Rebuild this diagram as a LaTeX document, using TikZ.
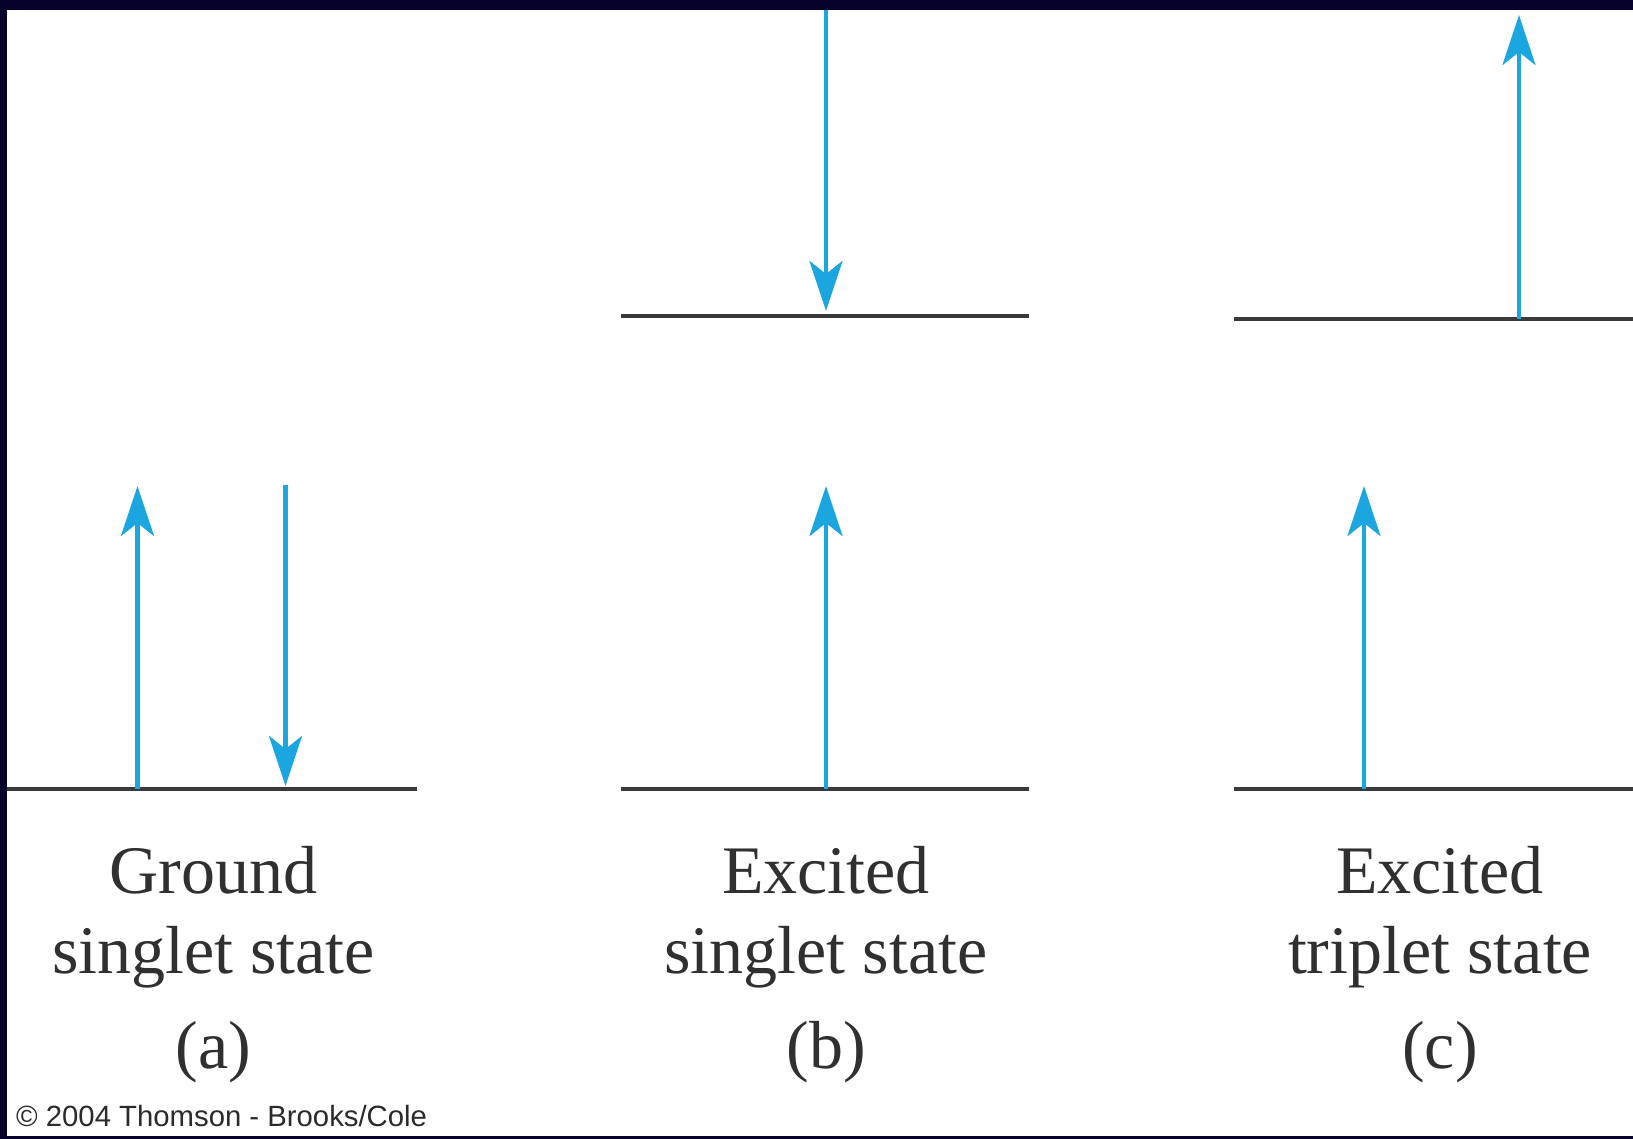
\documentclass[tikz,border=0pt]{standalone}
\usepackage{fontspec}
\setmainfont{Liberation Serif}
\newfontfamily\cpfont{Liberation Sans}
\usetikzlibrary{arrows.meta}
\definecolor{frame}{RGB}{6,2,42}
\definecolor{spinblue}{RGB}{28,166,224}
\definecolor{levelgray}{RGB}{58,58,58}
\definecolor{textgray}{RGB}{48,48,48}
\tikzset{
  level/.style={draw=levelgray, line width=4pt},
  spin/.style={draw=spinblue, line width=4.5pt, -{Stealth[length=50pt, width=33pt, inset=13pt]}},
  lbl/.style={anchor=base, inner sep=0pt, text=textgray, font=\fontsize{68}{80}\selectfont},
  cpy/.style={anchor=base west, inner sep=0pt, text=textgray!90!black, font=\cpfont\fontsize{29.3}{34}\selectfont}
}
\begin{document}
\begin{tikzpicture}[x=1pt, y=-1pt]
\useasboundingbox (0,0) rectangle (1633,1139);
\fill[white] (0,0) rectangle (1633,1139);
% frame
\fill[frame] (0,0) rectangle (1633,10);
\fill[frame] (0,0) rectangle (7,1139);
\fill[frame] (0,1136) rectangle (1633,1139);

% level endpoints
\coordinate (aL) at (7,789);   \coordinate (aR) at (417,789);
\coordinate (bLL) at (621,789); \coordinate (bLR) at (1029,789);
\coordinate (bUL) at (621,316); \coordinate (bUR) at (1029,316);
\coordinate (cLL) at (1234,789); \coordinate (cLR) at (1633,789);
\coordinate (cUL) at (1234,319); \coordinate (cUR) at (1633,319);

\draw[level] (aL) -- (aR);
\draw[level] (bLL) -- (bLR);
\draw[level] (bUL) -- (bUR);
\draw[level] (cLL) -- (cLR);
\draw[level] (cUL) -- (cUR);

% spin arrow endpoints
\coordinate (a1s) at (137.5,789); \coordinate (a1e) at (137.5,486);
\coordinate (a2s) at (285.5,485); \coordinate (a2e) at (285.5,786);
\coordinate (b1s) at (826,10);    \coordinate (b1e) at (826,311);
\coordinate (b2s) at (826,789);   \coordinate (b2e) at (826,486);
\coordinate (c1s) at (1519,319);  \coordinate (c1e) at (1519,15);
\coordinate (c2s) at (1364,789);  \coordinate (c2e) at (1364,486);

\draw[spin] (a1s) -- (a1e);
\draw[spin] (a2s) -- (a2e);
\draw[spin] (b1s) -- (b1e);
\draw[spin] (b2s) -- (b2e);
\draw[spin] (c1s) -- (c1e);
\draw[spin] (c2s) -- (c2e);

% labels
\node[lbl] (ta1) at (213.5,893) {Ground};
\node[lbl] (ta2) at (213.5,973) {singlet state};
\node[lbl] (ta3) at (213.5,1068) {(a)};
\node[lbl] (tb1) at (826,893) {Excited};
\node[lbl] (tb2) at (826,973) {singlet state};
\node[lbl] (tb3) at (826,1068) {(b)};
\node[lbl] (tc1) at (1440,893) {Excited};
\node[lbl] (tc2) at (1440,973) {triplet state};
\node[lbl] (tc3) at (1440,1068) {(c)};

\node[cpy] (copy) at (16,1126) {© 2004 Thomson - Brooks/Cole};
\end{tikzpicture}
\end{document}
